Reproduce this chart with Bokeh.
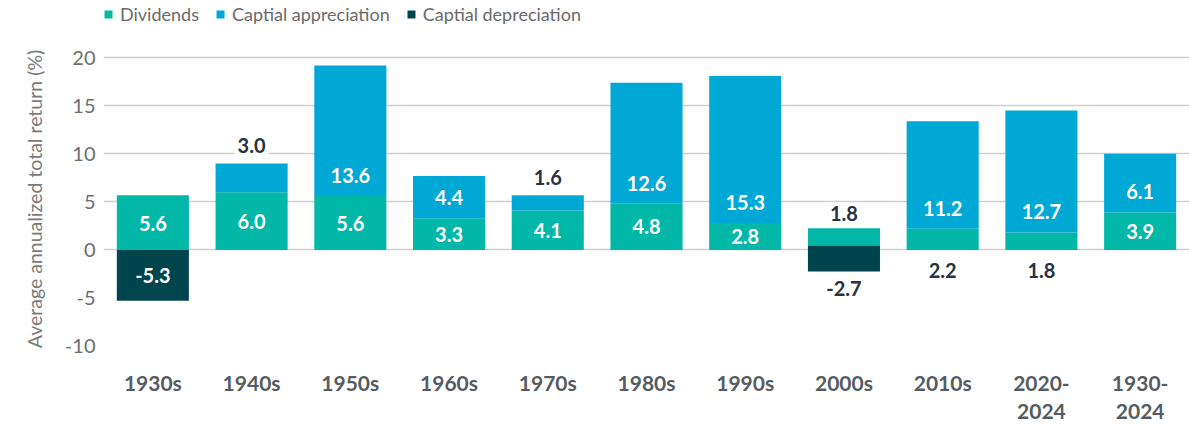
from bokeh.plotting import figure
from bokeh.layouts import column
from bokeh.models import (ColumnDataSource, Range1d, FixedTicker, Legend,
                          LegendItem, LinearAxis)
from bokeh.embed import file_html
from bokeh.resources import INLINE
from bokeh.core.properties import value

# ---------------- data ----------------
categories = ["1930s", "1940s", "1950s", "1960s", "1970s", "1980s", "1990s",
              "2000s", "2010s", "2020-2024", "1930-2024"]
dividends = [5.6, 6.0, 5.6, 3.3, 4.1, 4.8, 2.8, 1.8, 2.2, 1.8, 3.9]
appreciation = [0.1, 3.0, 13.6, 4.4, 1.6, 12.6, 15.3, 0.0, 11.2, 12.7, 6.1]
depreciation = [-5.3, 0.0, 0.0, 0.0, 0.0, 0.0, 0.0, -2.7, 0.0, 0.0, 0.0]
bar_base = [0.0, 0.0, 0.0, 0.0, 0.0, 0.0, 0.0, 0.45, 0.0, 0.0, 0.0]  # 2000s bar floats
y_ticks = [-10, -5, 0, 5, 10, 15, 20]
cat_line1 = ["1930s", "1940s", "1950s", "1960s", "1970s", "1980s", "1990s",
             "2000s", "2010s", "2020-", "1930-"]
cat_line2 = ["", "", "", "", "", "", "", "", "", "2024", "2024"]
series_names = ["Dividends", "Captial appreciation", "Captial depreciation"]

TEAL = "#00B7A8"
BLUE = "#00A8D5"
DARK = "#00444E"
DARK_TEXT = "#26323F"
COLORS = [TEAL, BLUE, DARK]

# ---------------- derived geometry ----------------
xs = list(range(len(categories)))
div_bottom = list(bar_base)
div_top = [b + d for b, d in zip(bar_base, dividends)]
app_bottom = list(div_top)
app_top = [t + a for t, a in zip(div_top, appreciation)]
dep_top = list(bar_base)
dep_bottom = [b + d for b, d in zip(bar_base, depreciation)]

div_src = ColumnDataSource(dict(x=xs, bottom=div_bottom, top=div_top))
ai = [i for i, a in enumerate(appreciation) if a > 0]
app_src = ColumnDataSource(dict(x=[xs[i] for i in ai],
                                bottom=[app_bottom[i] for i in ai],
                                top=[app_top[i] for i in ai]))
di = [i for i, d in enumerate(depreciation) if d < 0]
dep_src = ColumnDataSource(dict(x=[xs[i] for i in di],
                                bottom=[dep_bottom[i] for i in di],
                                top=[dep_top[i] for i in di]))
sources = [div_src, app_src, dep_src]

# labels
inside = dict(x=[], y=[], t=[])
outside = dict(x=[], y=[], t=[], yo=[])
for i, c in enumerate(xs):
    d, a, dp = dividends[i], appreciation[i], depreciation[i]
    if d >= 2.5:
        inside["x"].append(c); inside["y"].append((div_bottom[i] + div_top[i]) / 2); inside["t"].append(f"{d:.1f}")
    elif a > 0:
        outside["x"].append(c); outside["y"].append(div_bottom[i]); outside["t"].append(f"{d:.1f}"); outside["yo"].append(21)
    else:
        outside["x"].append(c); outside["y"].append(div_top[i]); outside["t"].append(f"{d:.1f}"); outside["yo"].append(-15)
    if a >= 3.5:
        yc = min((app_bottom[i] + app_top[i]) / 2, app_bottom[i] + 2.15)
        inside["x"].append(c); inside["y"].append(yc); inside["t"].append(f"{a:.1f}")
    elif a >= 0.5:
        outside["x"].append(c); outside["y"].append(app_top[i]); outside["t"].append(f"{a:.1f}"); outside["yo"].append(-18)
    if dp <= -3:
        inside["x"].append(c); inside["y"].append((dep_bottom[i] + dep_top[i]) / 2); inside["t"].append(f"{dp:.1f}")
    elif dp < 0:
        outside["x"].append(c); outside["y"].append(dep_bottom[i]); outside["t"].append(f"{dp:.1f}"); outside["yo"].append(17)

# ---------------- legend strip ----------------
lg = figure(width=1189, height=28, output_backend="svg", toolbar_location=None,
            x_range=Range1d(-200, -199), y_range=Range1d(-200, -199),
            x_axis_type=None, y_axis_type=None,
            min_border_left=0, min_border_right=0, min_border_top=0, min_border_bottom=0)
lg.outline_line_color = None
lg.xgrid.visible = False
lg.ygrid.visible = False
lg_items = []
for name, col, src in zip(series_names, COLORS, sources):
    r = lg.vbar(x="x", bottom="bottom", top="top", width=0.73, source=src,
                fill_color=col, line_color=None)
    lg_items.append(LegendItem(label=name, renderers=[r]))
legend = Legend(items=lg_items, location=(0, 3), orientation="horizontal",
                glyph_width=10, glyph_height=10, label_standoff=7, spacing=16,
                padding=0, margin=0, label_height=14,
                label_text_font="Lato", label_text_font_size="18px",
                label_text_color="#6A6A6A",
                background_fill_alpha=0, border_line_color=None)
lg.add_layout(legend, "center")

# ---------------- main figure ----------------
p = figure(width=1189, height=397, output_backend="svg", toolbar_location=None,
           x_range=Range1d(-0.5, len(categories) - 0.5),
           y_range=Range1d(-11.2, 21.8),
           min_border_left=103, min_border_right=0, min_border_top=12, min_border_bottom=61)
p.outline_line_color = None
p.background_fill_color = "white"
p.border_fill_color = "white"

p.vbar(x="x", bottom="bottom", top="top", width=0.73, source=div_src,
       fill_color=TEAL, line_color=None)
p.vbar(x="x", bottom="bottom", top="top", width=0.73, source=app_src,
       fill_color=BLUE, line_color=None)
p.vbar(x="x", bottom="bottom", top="top", width=0.73, source=dep_src,
       fill_color=DARK, line_color=None)

p.text(x="x", y="y", text="t", source=ColumnDataSource(inside),
       text_align="center", text_baseline="middle", text_color="white",
       text_font=value("Lato"), text_font_size="20px", text_font_style="bold")
p.text(x="x", y="y", text="t", y_offset="yo", source=ColumnDataSource(outside),
       text_align="center", text_baseline="middle", text_color=DARK_TEXT,
       text_font=value("Lato"), text_font_size="20px", text_font_style="bold",
       background_fill_color="white", padding=3)

# y axis
p.yaxis.ticker = FixedTicker(ticks=y_ticks)
p.yaxis.major_label_overrides = {t: str(t) for t in y_ticks}
p.yaxis.axis_line_color = None
p.yaxis.major_tick_line_color = None
p.yaxis.minor_tick_line_color = None
p.yaxis.major_tick_out = 0
p.yaxis.major_label_standoff = 8
p.yaxis.major_label_text_font = "Lato"
p.yaxis.major_label_text_font_size = "20px"
p.yaxis.major_label_text_color = "#6E6E6E"
p.yaxis.axis_label = "Average annualized total return (%)"
p.yaxis.axis_label_text_font = "Lato"
p.yaxis.axis_label_text_font_size = "19.5px"
p.yaxis.axis_label_text_font_style = "normal"
p.yaxis.axis_label_text_color = "#7A7A7A"
p.yaxis.axis_label_standoff = 16


def style_xaxis(ax, standoff, lines):
    ax.ticker = FixedTicker(ticks=xs)
    ax.major_label_overrides = {x: (t if t else " ") for x, t in zip(xs, lines)}
    ax.axis_line_color = None
    ax.major_tick_line_color = None
    ax.minor_tick_line_color = None
    ax.major_tick_out = 0
    ax.major_tick_in = 0
    ax.major_label_standoff = standoff
    ax.major_label_text_font = "Lato"
    ax.major_label_text_font_size = "21px"
    ax.major_label_text_font_style = "bold"
    ax.major_label_text_color = "#565B61"


style_xaxis(p.xaxis[0], 12, cat_line1)
ax2 = LinearAxis()
style_xaxis(ax2, 0, cat_line2)
p.add_layout(ax2, "below")

p.xgrid.grid_line_color = None
p.ygrid.ticker = FixedTicker(ticks=[t for t in y_ticks if t >= 0])
p.ygrid.grid_line_color = "#CFCFCF"
p.ygrid.grid_line_width = 1.5

layout = column(lg, p, spacing=0)
open("out.html", "w").write(file_html(layout, INLINE))
